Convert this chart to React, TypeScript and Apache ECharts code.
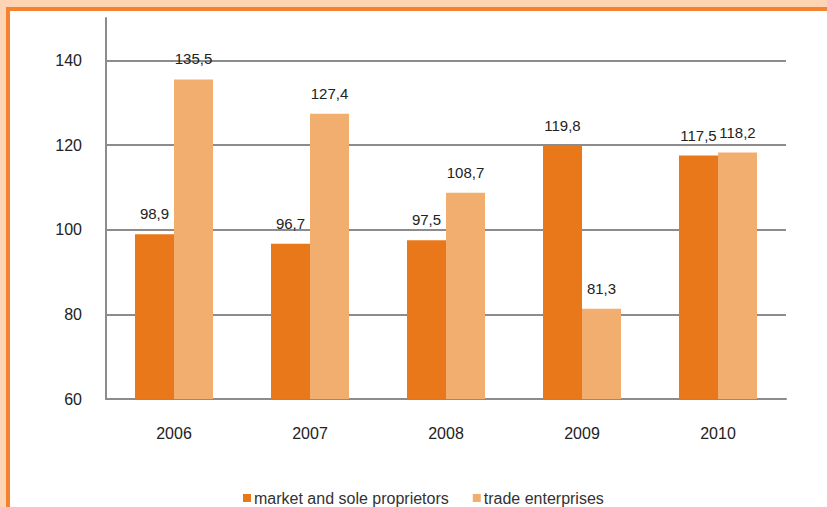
import React, { useEffect, useRef } from "react";
import * as echarts from "echarts";

const categories = ["2006", "2007", "2008", "2009", "2010"];
const marketValues = [98.9, 96.7, 97.5, 119.8, 117.5];
const tradeValues = [135.5, 127.4, 108.7, 81.3, 118.2];
const seriesNames = ["market and sole proprietors", "trade enterprises"];

const FONT = "Arial, Liberation Sans, sans-serif";
const DARK = "#E8781A";
const LIGHT = "#F2AE6E";
const GRID = "#8C8C8C";

export default function App() {
  const ref = useRef<HTMLDivElement>(null);
  useEffect(() => {
    document.body.style.margin = "0";
    const chart = echarts.init(ref.current!, null, { renderer: "svg" });
    const labelFmt = (p: any) => String(p.value).replace(".", ",");
    chart.setOption({
      animation: false,
      backgroundColor: "#ffffff",
      textStyle: { fontFamily: FONT },
      graphic: [
        { type: "rect", left: 0, top: 0, shape: { width: 827, height: 7 }, style: { fill: "#FDD5B5" } },
        { type: "rect", left: 0, top: 0, shape: { width: 6, height: 507 }, style: { fill: "#FDD5B5" } },
        { type: "rect", left: 6, top: 7, shape: { width: 821, height: 4 }, style: { fill: "#F5822F" } },
        { type: "rect", left: 6, top: 7, shape: { width: 4, height: 500 }, style: { fill: "#F5822F" } },
      ],
      grid: { left: 106, right: 41, top: 18, bottom: 108, containLabel: false },
      legend: {
        left: 238,
        top: 485,
        itemWidth: 8,
        itemHeight: 8,
        itemGap: 24,
        icon: "rect",
        textStyle: { fontFamily: FONT, fontSize: 16, color: "#333333", padding: [0, 0, 0, -2] },
        data: seriesNames,
      },
      xAxis: {
        type: "category",
        data: categories,
        axisLine: { show: true, lineStyle: { color: GRID, width: 2 } },
        axisTick: { show: false },
        axisLabel: { fontFamily: FONT, fontSize: 16, color: "#222222", margin: 26 },
      },
      yAxis: {
        type: "value",
        min: 60,
        max: 150,
        interval: 20,
        axisLine: { show: true, lineStyle: { color: GRID, width: 2 } },
        axisTick: { show: false },
        axisLabel: { fontFamily: FONT, fontSize: 16, color: "#222222", margin: 24, showMaxLabel: false },
        splitLine: { show: true, showMaxLine: false, lineStyle: { color: GRID, width: 2 } },
      },
      series: [
        {
          name: seriesNames[0],
          type: "bar",
          data: marketValues,
          barWidth: 39,
          barGap: "0%",
          itemStyle: { color: DARK },
          label: { show: true, position: "top", distance: 13, formatter: labelFmt, fontFamily: FONT, fontSize: 15, color: "#222222" },
        },
        {
          name: seriesNames[1],
          type: "bar",
          data: tradeValues,
          barWidth: 39,
          barGap: "0%",
          itemStyle: { color: LIGHT },
          label: { show: true, position: "top", distance: 13, formatter: labelFmt, fontFamily: FONT, fontSize: 15, color: "#222222" },
        },
      ],
    });
    return () => chart.dispose();
  }, []);
  return <div ref={ref} style={{ position: "fixed", left: 0, top: 0, width: 827, height: 507 }} />;
}
